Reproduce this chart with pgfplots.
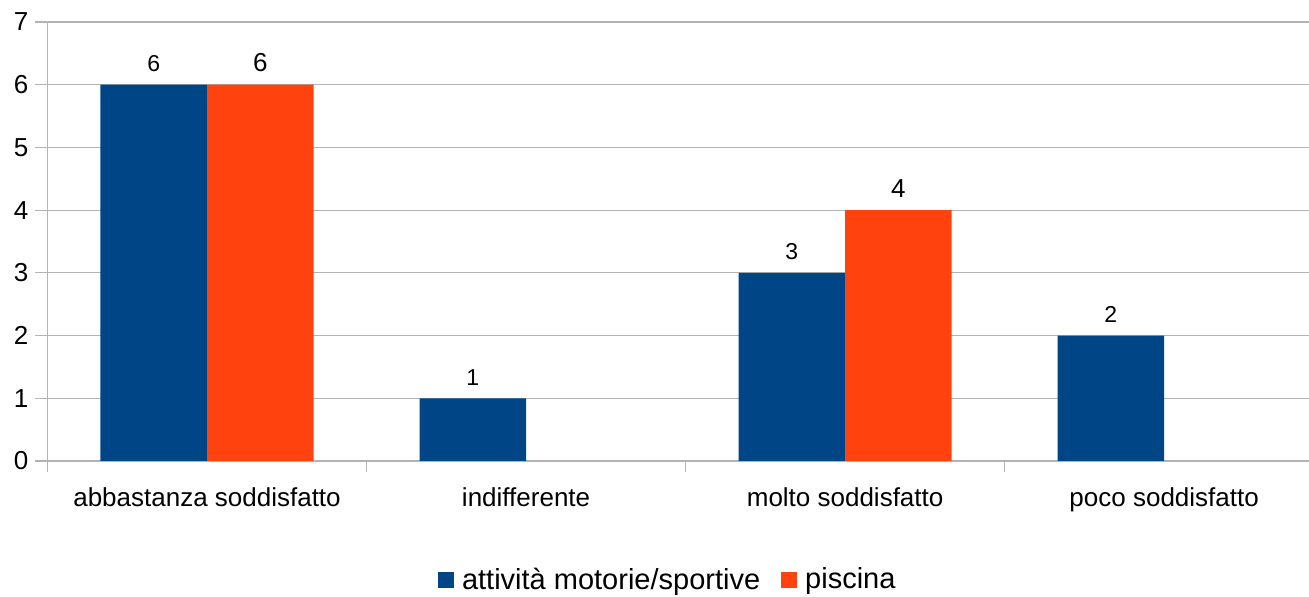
\documentclass[border=0pt]{standalone}
\usepackage{fontspec}
\setmainfont{Liberation Sans}
\usepackage{pgfplots}
\pgfplotsset{compat=1.18}
\definecolor{cblue}{HTML}{004586}
\definecolor{corange}{HTML}{FF420E}
\definecolor{cgrid}{HTML}{B3B3B3}
\begin{document}
\begin{tikzpicture}
\begin{axis}[
  at={(0,0)}, anchor=south west,
  scale only axis, width=630.75pt, height=219.5pt,
  xmin=-0.5, xmax=3.454, ymin=0, ymax=7,
  /pgf/number format/assume math mode=true,
  axis lines*=left,
  axis line style={cgrid, line width=0.6pt},
  ytick={0,1,2,3,4,5,6,7},
  ymajorgrids, grid style={cgrid, line width=0.6pt},
  tick align=outside, major tick length=6pt,
  ytick style={cgrid, line width=0.6pt},
  xtick={0,1,2,3},
  xticklabels={abbastanza soddisfatto, indifferente, molto soddisfatto, poco soddisfatto},
  xtick style={draw=none},
  xticklabel style={yshift=-4pt},
  extra x ticks={-0.5,0.5,1.5,2.5},
  extra x tick labels={},
  extra x tick style={grid=none, xtick style={draw=cgrid, line width=0.6pt}, major tick length=5.5pt},
  tick label style={font=\fontsize{13}{15}\selectfont},
  ybar=0pt, bar width=0.334,
  legend style={at={(0.4925,-0.271)}, anchor=center, legend columns=2, draw=none, fill=none,
    font=\fontsize{14.5}{16}\selectfont,
    /tikz/every odd column/.append style={column sep=2pt},
    /tikz/every even column/.append style={column sep=8.5pt}},
  legend image code/.code={\fill[#1] (0pt,-4pt) rectangle (8pt,4pt);},
]
\addplot[fill=cblue, draw=none, nodes near coords,
  every node near coord/.append style={font=\fontsize{11.5}{13}\selectfont, black, yshift=3pt}]
  coordinates {(0,6) (1,1) (2,3) (3,2)};
\addlegendentry{attività motorie/sportive}
\addplot[fill=corange, draw=none, nodes near coords,
  every node near coord/.append style={font=\fontsize{13}{15}\selectfont, black, yshift=3pt}]
  coordinates {(0,6) (2,4)};
\addlegendentry{piscina}
\end{axis}
\pgfresetboundingbox
\path[use as bounding box] (-23.75pt,-68pt) rectangle (630.75pt,230.5pt);
\end{tikzpicture}
\end{document}
